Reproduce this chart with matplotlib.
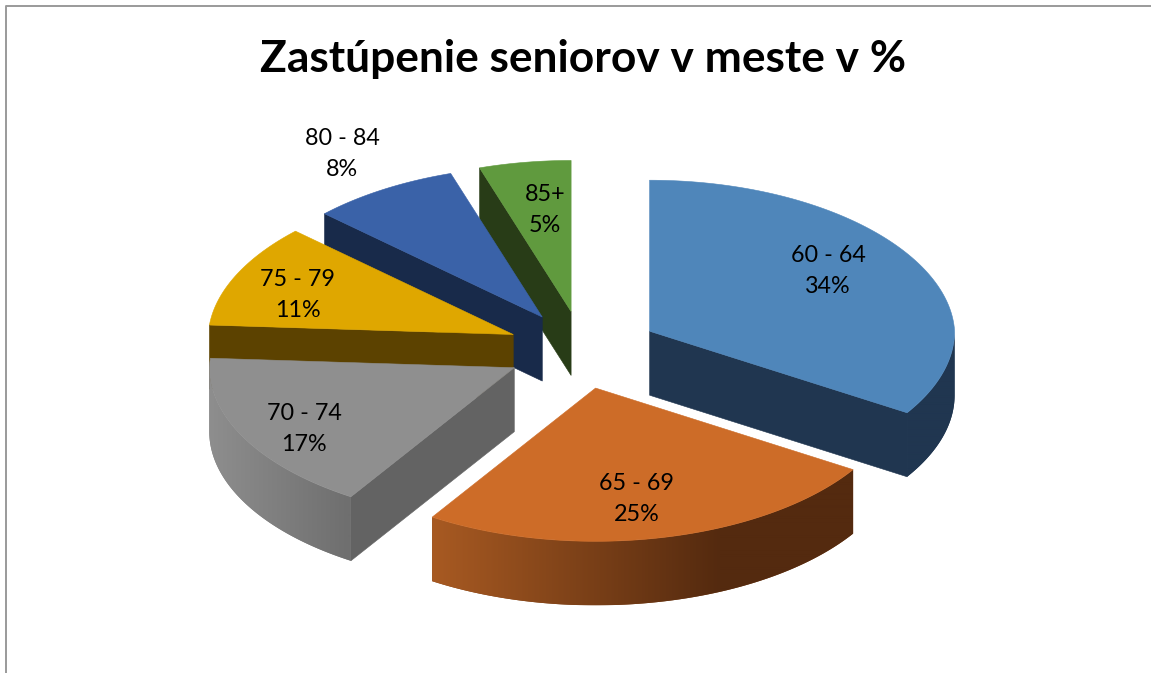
import numpy as np
import matplotlib.pyplot as plt
from matplotlib.patches import Polygon
from matplotlib.colors import to_rgb

age_groups = ["60 - 64", "65 - 69", "70 - 74", "75 - 79", "80 - 84", "85+"]
shares = [34, 25, 17, 11, 8, 5]
title = "Zastúpenie seniorov v meste v %"

top_colors = ["#4f86ba", "#cd6c28", "#8f8f8f", "#dfa700", "#3a62a8", "#609a3e"]
side_colors = ["#203650", "#542a0f", "#636363", "#5c4200", "#182a4a", "#283c17"]
# rim gradient, left colour -> right colour, and x where it stops changing
rim_colors = [("#203650", "#203650", 955), ("#a85a22", "#542a0f", 720),
              ("#8e8e8e", "#6f6f6f", 348), ("#5c4200", "#5c4200", 300),
              ("#182a4a", "#182a4a", 400), ("#283c17", "#283c17", 500)]
label_xy = [(828, 271), (637, 499), (304, 429), (298, 295), (342, 154), (545, 210)]

CX, CY = 583, 350      # pie centre before explode
RX, RY = 305, 151      # ellipse of the top face
EX, EY = 76, 39        # explode distance
DEPTH = 64
PERSP = 0.03           # back of the pie is a bit narrower
PERSP_Y = 0.015        # front of the pie reaches a bit lower
nudge_x = [0, -4, -1, 0, 0, 0]

plt.rcParams["font.family"] = ["Lato", "DejaVu Sans"]
fig = plt.figure(figsize=(11.51, 6.73), dpi=100)
ax = fig.add_axes([0, 0, 1, 1])

# frame of the chart, cropped so only top and left show
ax.plot([6.5, 6.5, 1151], [673, 5.5, 5.5], color="#9a9a9a", lw=1.4, zorder=0)


def pt(ox, oy, deg):
    a = np.radians(deg)
    scale = 1 - PERSP * np.maximum(np.cos(a), 0)
    scale_y = 1 + PERSP_Y * np.maximum(-np.cos(a), 0)
    return ox + RX * np.sin(a) * scale, oy - RY * np.cos(a) * scale_y


def draw_radial(ox, oy, deg, color, z):
    x, y = pt(ox, oy, deg)
    ax.add_patch(Polygon([(ox, oy), (x, y), (x, y + DEPTH), (ox, oy + DEPTH)],
                         closed=True, fc=color, ec=color, lw=0.4, zorder=z))


def draw_rim(ox, oy, a0, a1, rim, z):
    a0, a1 = max(a0, 90), min(a1, 270)
    if a1 <= a0:
        return
    c_left, c_right, x_stop = rim
    c_left, c_right = np.array(to_rgb(c_left)), np.array(to_rgb(c_right))
    ang = np.linspace(a0, a1, 120)
    xs, ys = pt(ox, oy, ang)
    verts = list(zip(xs, ys)) + list(zip(xs[::-1], ys[::-1] + DEPTH))
    mean = tuple((c_left + c_right) / 2)
    under = Polygon(verts, closed=True, fc=mean, ec="none", zorder=z)
    ax.add_patch(under)
    t = np.clip((np.arange(xs.min(), xs.max() + 1) - xs.min()) / max(x_stop - xs.min(), 1), 0, 1)
    grad = c_left[None, None, :] + (c_right - c_left)[None, None, :] * t[None, :, None]
    im = ax.imshow(grad, extent=(xs.min(), xs.max() + 1, ys.max() + DEPTH, ys.min()),
                   aspect="auto", interpolation="bilinear", zorder=z)
    im.set_clip_path(under)


edges = np.cumsum([0] + shares) / sum(shares) * 360
# back slices first so the front ones cover them
order = [5, 4, 3, 2, 0, 1]
for z, i in enumerate(order):
    z = z * 3 + 2
    a0, a1 = edges[i], edges[i + 1]
    mid = np.radians((a0 + a1) / 2)
    ox = CX + EX * np.sin(mid) + nudge_x[i]
    oy = CY - EY * np.cos(mid)

    # side faces that look towards the viewer
    if np.cos(np.radians(a0 - 90)) < -1e-6:
        draw_radial(ox, oy, a0, side_colors[i], z)
    if np.cos(np.radians(a1 + 90)) < -1e-6:
        draw_radial(ox, oy, a1, side_colors[i], z)
    draw_rim(ox, oy, a0, a1, rim_colors[i], z)

    ang = np.linspace(a0, a1, 120)
    xs, ys = pt(ox, oy, ang)
    verts = [(ox, oy)] + list(zip(xs, ys))
    ax.add_patch(Polygon(verts, closed=True, fc=top_colors[i], ec=top_colors[i],
                         lw=0.4, zorder=z + 1))

for name, val, (x, y) in zip(age_groups, shares, label_xy):
    ax.text(x, y, f"{name}\n{val}%", ha="center", va="center", fontsize=16.8,
            linespacing=1.64, color="black", zorder=40)

ax.text(583, 59, title, ha="center", va="center", fontsize=31.9, fontweight="bold",
        color="black", zorder=40)

ax.set_xlim(0, 1151)
ax.set_ylim(673, 0)
ax.axis("off")

fig.savefig("out.png", dpi=100)
